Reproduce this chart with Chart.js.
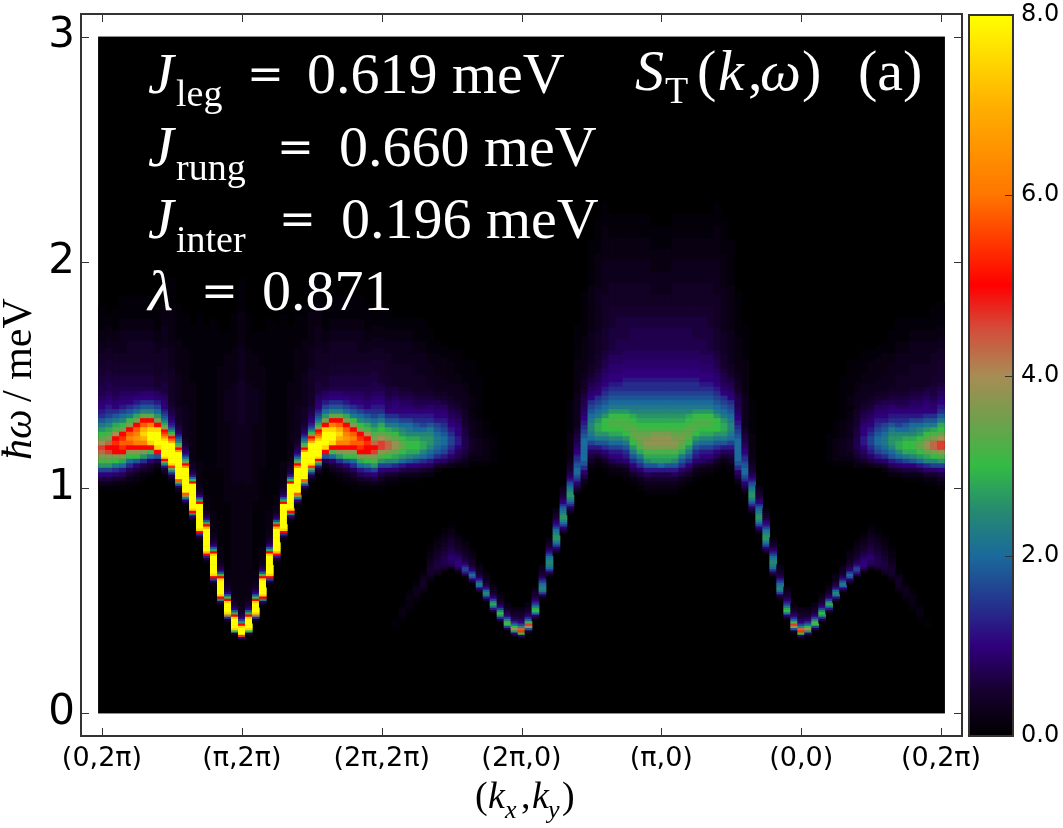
<!DOCTYPE html>
<html>
<head>
<meta charset="utf-8">
<title>S_T(k,w)</title>
<script src="https://cdn.jsdelivr.net/npm/chart.js@4/dist/chart.umd.js"></script>
<style>
    html, body { margin: 0; padding: 0; background: #fff; }
    #wrap { position: relative; width: 1063px; height: 828px; overflow: hidden; }
    #mapChart { position: absolute; left: 0; top: 0; }
    #barChart { position: absolute; left: 965px; top: 0; }
</style>
</head>
<body>
<div id="wrap">
    <canvas id="mapChart" width="1063" height="828"></canvas>
    <canvas id="barChart" width="98" height="828"></canvas>
</div>
<script>
// Path ticks every 20 momentum columns, energy ticks in meV
const kTicks = [0, 20, 40, 60, 80, 100, 120];
const kLabels = ['(0,2π)', '(π,2π)', '(2π,2π)', '(2π,0)', '(π,0)', '(0,0)', '(0,2π)'];
const energyTicks = [0, 1, 2, 3];
const colorTicks = [0, 2, 4, 6, 8];

// Intensity scale of the map
const cmapValues = [0, 0.5, 1, 1.4, 2, 2.5, 3, 3.5, 4, 4.5, 5, 5.5, 6, 7, 8];
const cmapColors = ['#000000', '#16002e', '#30007c', '#262c8c', '#1a6a9c', '#268a70', '#33bb44',
    '#6fa04c', '#a88c54', '#d24f3c', '#ff0000', '#ff3a00', '#ff7500', '#ffb000', '#ffff00'];

// One character per cell, each stands for an intensity
const levelChars = '0123456789abcdefghijklmnopqrstuvwxyz';
const levelValues = [0, .1, .2, .3, .4, .5, .6, .7, .8, .9, 1, 1.2, 1.4, 1.6, 1.8, 2, 2.2, 2.4, 2.6, 2.8,
    3, 3.2, 3.4, 3.6, 3.8, 4, 4.3, 4.6, 5, 5.4, 5.8, 6.2, 6.6, 7, 7.5, 8];

// Spectra along (0,2pi) -> (pi,2pi): columns 0..20, each a list of [first energy, row height, levels]
const spectraLegA = [
    [[.97, .02, '0136adilnqrpmkigecba9877'], [1.45, .05, '6543211']],
    [[.97, .02, '0136adilnrsqnljhfdcba9877'], [1.47, .05, '654321']],
    [[.97, .02, '01259cgknsstspljgeca9877'], [1.45, .05, '6543211']],
    [[.97, .02, '01248bfjnstutsnkhfdba987'], [1.45, .05, '65433211']],
    [[.99, .02, '11358cfkosuvusokgeca987'], [1.45, .05, '65443211']],
    [[1.01, .02, '1236aekosvwvusnjfdba87'], [1.45, .05, '65443211']],
    [[1.03, .02, '1247cinsvxyxusmheca97'], [1.45, .05, '65443211']],
    [[1.05, .02, '1359flsyzzyvsmheca97'], [1.45, .05, '65443211']],
    [[1.07, .02, '137esyzzzysnifdb986'], [1.45, .05, '5443211']],
    [[1.05, .01, '1247bhmsyzzzzzzzywutspmjhfedcbaa99887'], [1.42, .05, '6544332211']],
    [[1.02, .01, '1247chntyzzzzzzzzzxusnkhecba98776655'], [1.38, .05, '44433222111']],
    [[.97, .01, '1248enuzzzzzzzzzzzzwsokhfdb9876554'], [1.31, .05, '433322211100']],
    [[.91, .01, '125agouzzzzzzzzzzzwsojfca876544'], [1.22, .05, '3332222211100']],
    [[.84, .01, '125ahsyzzzzzzzzzzzskfb865443'], [1.12, .05, '222222211111000']],
    [[.76, .01, '126csyzzzzzzzzzzzsjea75433'], [1.02, .05, '2211111111111110']],
    [[.66, .01, '126bsxzzzzzzzzzzxsjea75433'], [.92, .05, '2111111111111111']],
    [[.56, .01, '126dsyzzzzzzzzysjea75433'], [.80, .05, '2211111111111111111']],
    [[.47, .01, '138hsyzzzzzzyskea75433'], [.69, .05, '21111111222222222111']],
    [[.40, .01, '14cpyzzzzyskea75433'], [.59, .05, '2111111222222233322211']],
    [[.34, .01, '16kyzzzzysjea75433'], [.52, .05, '2222222222333333333222111']],
    [[.32, .01, '18rzzzysida75433'], [.48, .05, '22222222222333334444333222111']]
];

// Spectra along (2pi,2pi) -> (2pi,0) -> (pi,0): columns 40..80
const spectraLegB = [
    [[.99, .02, '1246adilorrpmkjgecba9876'], [1.47, .05, '5543211']],
    [[1.01, .02, '1259dhknqqnljgeca98766'], [1.45, .05, '5443211']],
    [[.38, .01, '1111'], [1.01, .02, '1259chjmoomkigecaa9876'], [1.45, .05, '443321']],
    [[.41, .01, '11222211'], [1.03, .02, '137bfikmmkihfdba98765'], [1.45, .05, '443321']],
    [[.45, .01, '1122222211'], [1.03, .02, '136aehjkkjhgfdba98765'], [1.45, .05, '443321']],
    [[.49, .01, '1123333211'], [1.03, .02, '136adgjkkjhfecba87654'], [1.45, .05, '433211']],
    [[.53, .01, '12344443211'], [1.05, .02, '259cfhjjihfdcba87654'], [1.45, .05, '433211']],
    [[.58, .01, '12345554433222111'], [1.05, .02, '248befhiihgecba97654'], [1.45, .05, '33211']],
    [[.61, .01, '245666655443322211'], [1.07, .02, '259cefggfedba987543'], [1.45, .05, '3221']],
    [[.63, .01, '2567777665544332211'], [1.09, .02, '48bdeffedcba98654'], [1.43, .05, '3221']],
    [[.64, .01, '26889987766554332211'], [1.09, .02, '369bcddcba987654'], [1.41, .05, '3221']],
    [[.62, .01, '258aaa987655433221'], [1.09, .02, '2478abbaa9876543'], [1.41, .05, '3211']],
    [[.60, .01, '27bddb97654433221'], [1.09, .02, '23567776655443'], [1.37, .05, '3211']],
    [[.57, .01, '15aefda865433221'], [1.10, .02, '1234443333221'], [1.36, .05, '2111']],
    [[.53, .01, '15afgeb8643321'], [1.10, .02, '123333222211'], [1.34, .05, '111']],
    [[.49, .01, '16bghfb8643321'], [1.10, .02, '1222221111']],
    [[.44, .01, '16bgjhda754321'], [1.12, .02, '111111']],
    [[.40, .01, '17cikhda754321']],
    [[.36, .01, '17dklhda75432']],
    [[.34, .01, '29ipkfc975432']],
    [[.33, .01, '28ktqhda865432']],
    [[.35, .01, '15eprlfc975432']],
    [[.41, .01, '14agkjgdb975432']],
    [[.50, .01, '138dghgfdb865432']],
    [[.60, .01, '148cfghhgfdb975432']],
    [[.70, .01, '136adfhiihgfdba865432']],
    [[.79, .01, '136adfhiihgfeca9765432']],
    [[.88, .01, '1369ceghiihgfedba876554332'], [1.14, .05, '2211100']],
    [[.97, .01, '13579acdefffeedccbaa9887766554'], [1.27, .05, '3332221110']],
    [[1.00, .02, '1369cefffffedcba9877654433'], [1.52, .05, '2221111']],
    [[1.07, .02, '12468bdfghhgfedca9876544'], [1.55, .05, '33322221111']],
    [[1.09, .02, '1258begijjigfedca98776555'], [1.59, .05, '44333322211100']],
    [[1.07, .02, '1247acegikkkigfedcba9987766'], [1.61, .05, '55444333222110']],
    [[1.05, .02, '1247abdfhjkllkigfedcbaa99887'], [1.61, .05, '6655443322110']],
    [[1.05, .02, '1258abdfhjkllkigfedcbaa99887'], [1.61, .05, '7665443322110']],
    [[1.03, .02, '12369bcegiklllkigfedccbaa9988'], [1.61, .05, '7665443322110']],
    [[1.01, .02, '1247acegiklmmlkjhgfedccbaa9988'], [1.61, .05, '7765443322110']],
    [[.99, .02, '12369cegjlmnmlkjihgfedccbaa9988'], [1.61, .05, '7765443322110']],
    [[.97, .02, '12358behjlnonmlkjihgfedccbaa9988'], [1.61, .05, '7765443322110']],
    [[.97, .02, '12357beijlnoonlkjihgfedccbaa9988'], [1.61, .05, '77654332211']],
    [[.97, .02, '12357bfijlnoonlkjihgfedccbaa9988'], [1.61, .05, '77654332211']]
];

// The path is mirrored around columns 20 and 80
function spectrumAt(col) {
    if (col <= 20) return spectraLegA[col];
    if (col < 40) return spectraLegA[40 - col];
    if (col <= 80) return spectraLegB[col - 40];
    return spectraLegB[120 - col];
}

function hexToRgb(hex) {
    return [1, 3, 5].map(function (i) { return parseInt(hex.substr(i, 2), 16); });
}

function colorFor(value) {
    for (let i = 1; i < cmapValues.length; i++) {
        if (value <= cmapValues[i]) {
            const t = (value - cmapValues[i - 1]) / (cmapValues[i] - cmapValues[i - 1]);
            const a = hexToRgb(cmapColors[i - 1]);
            const b = hexToRgb(cmapColors[i]);
            return 'rgb(' + a.map(function (c, n) { return Math.round(c + (b[n] - c) * t); }).join(',') + ')';
        }
    }
    return cmapColors[cmapColors.length - 1];
}

// Every cell of the map becomes one floating bar
const cells = [];
const cellColors = [];
for (let col = 0; col <= 120; col++) {
    spectrumAt(col).forEach(function (run) {
        for (let i = 0; i < run[2].length; i++) {
            const value = levelValues[levelChars.indexOf(run[2][i])];
            if (value === 0) continue;
            cells.push({ x: col, y: [run[0] + i * run[1], run[0] + (i + 1) * run[1]] });
            cellColors.push(colorFor(value));
        }
    });
}

const frameColor = '#333';

function put(c, text, x, y, font) {
    c.font = font;
    c.fillText(text, x, y);
}

const SERIF = '"Liberation Serif", serif';

const mapDecorations = {
    id: 'mapDecorations',
    // black field behind the cells, from the scales
    beforeDatasetsDraw: function (chart) {
        const c = chart.ctx;
        const x = chart.scales.x;
        const y = chart.scales.y;
        c.save();
        c.fillStyle = '#000';
        c.fillRect(x.getPixelForValue(-0.5) - 0.4, y.getPixelForValue(3),
            x.getPixelForValue(120.5) - x.getPixelForValue(-0.5) + 0.8, y.getPixelForValue(0) - y.getPixelForValue(3));
        c.restore();
    },
    afterDatasetsDraw: function (chart) {
        const c = chart.ctx;
        const a = chart.chartArea;
        c.save();

        // frame and inward ticks on all four sides
        c.strokeStyle = frameColor;
        c.lineWidth = 1;
        chart.scales.x.ticks.forEach(function (t, i) {
            const px = Math.round(chart.scales.x.getPixelForTick(i)) + 0.5;
            c.beginPath();
            c.moveTo(px, a.bottom); c.lineTo(px, a.bottom - 8);
            c.moveTo(px, a.top); c.lineTo(px, a.top + 8);
            c.stroke();
        });
        chart.scales.y.ticks.forEach(function (t, i) {
            const py = Math.round(chart.scales.y.getPixelForTick(i)) + 0.5;
            c.beginPath();
            c.moveTo(a.left, py); c.lineTo(a.left + 8, py);
            c.moveTo(a.right, py); c.lineTo(a.right - 8, py);
            c.stroke();
        });
        c.lineWidth = 2;
        c.strokeRect(a.left, a.top, a.right - a.left, a.bottom - a.top);

        // parameter block
        c.fillStyle = '#fff';
        c.textAlign = 'left';
        c.textBaseline = 'alphabetic';
        const big = '58px ' + SERIF;
        const bigIt = 'italic 58px ' + SERIF;
        const sub = '38px ' + SERIF;
        const eq = '44px "DejaVu Serif"';
        put(c, 'J', 148, 93, bigIt); put(c, 'leg', 176, 106, sub);
        put(c, '=', 247, 89, eq); put(c, '0.619 meV', 307, 93, big);
        put(c, 'J', 148, 166, bigIt); put(c, 'rung', 176, 180, sub);
        put(c, '=', 277, 162, eq); put(c, '0.660 meV', 339, 166, big);
        put(c, 'J', 148, 238, bigIt); put(c, 'inter', 176, 252, sub);
        put(c, '=', 279, 234, eq); put(c, '0.196 meV', 341, 238, big);
        put(c, 'λ', 148, 310, bigIt);
        put(c, '=', 201, 306, eq); put(c, '0.871', 262, 310, big);

        // panel title
        put(c, 'S', 635, 90, bigIt); put(c, 'T', 665, 103, sub);
        put(c, '(', 697, 90, big); put(c, 'k', 718, 90, bigIt);
        put(c, ',', 748, 90, big); put(c, 'ω', 760, 90, bigIt);
        put(c, ')', 802, 90, big); put(c, '(a)', 858, 90, big);

        // axis titles
        c.fillStyle = '#000';
        const title = '38px ' + SERIF;
        const titleIt = 'italic 38px ' + SERIF;
        const subIt = 'italic 26px ' + SERIF;
        put(c, '(', 475, 808, title); put(c, 'k', 488, 808, titleIt); put(c, 'x', 505, 818, subIt);
        put(c, ',', 521, 808, title); put(c, 'k', 532, 808, titleIt); put(c, 'y', 548, 818, subIt);
        put(c, ')', 562, 808, title);

        c.translate(31, 460);
        c.rotate(-Math.PI / 2);
        put(c, 'ħω', 0, 0, 'italic 42px ' + SERIF);
        put(c, '/ meV', 58, 0, '42px ' + SERIF);
        c.restore();
    }
};

new Chart(document.getElementById('mapChart').getContext('2d'), {
    type: 'bar',
    data: {
        datasets: [{
            data: cells,
            backgroundColor: cellColors,
            barPercentage: 1,
            categoryPercentage: 1,
            borderWidth: 0
        }]
    },
    options: {
        responsive: false,
        animation: false,
        layout: { padding: { top: 14, right: 101 } },
        plugins: { legend: { display: false }, tooltip: { enabled: false } },
        scales: {
            x: {
                type: 'linear',
                offset: false,
                min: -3,
                max: 123,
                afterBuildTicks: function (scale) {
                    scale.ticks = kTicks.map(function (v) { return { value: v }; });
                },
                afterFit: function (scale) {
                    scale.height = 92;
                    scale.paddingLeft = 0;
                    scale.paddingRight = 0;
                },
                grid: { display: false, drawTicks: false, offset: false },
                border: { display: false },
                ticks: {
                    autoSkip: false,
                    maxRotation: 0,
                    padding: 7,
                    color: '#000',
                    font: { family: '"DejaVu Sans"', size: 27 },
                    callback: function (value, index) { return kLabels[index]; }
                }
            },
            y: {
                min: -0.1,
                max: 3.1,
                afterBuildTicks: function (scale) {
                    scale.ticks = energyTicks.map(function (v) { return { value: v }; });
                },
                // labels may overhang the frame, no extra room for them
                afterFit: function (scale) {
                    scale.width = 81;
                    scale.paddingTop = 0;
                    scale.paddingBottom = 0;
                },
                grid: { display: false, drawTicks: false },
                border: { display: false },
                ticks: {
                    padding: 6,
                    color: '#000',
                    font: { family: '"DejaVu Sans"', size: 42 },
                    callback: function (value) { return String(value); }
                }
            }
        }
    },
    plugins: [mapDecorations]
});

// Colour bar: a single floating bar from 0 to 8 filled with the intensity scale
const barDecorations = {
    id: 'barDecorations',
    afterDatasetsDraw: function (chart) {
        const c = chart.ctx;
        const a = chart.chartArea;
        c.save();
        c.strokeStyle = frameColor;
        c.lineWidth = 1;
        chart.scales.y.ticks.forEach(function (t, i) {
            const py = Math.round(chart.scales.y.getPixelForTick(i)) + 0.5;
            c.beginPath();
            c.moveTo(a.right, py); c.lineTo(a.right - 8, py);
            c.stroke();
        });
        c.lineWidth = 2;
        c.strokeRect(a.left, a.top, a.right - a.left, a.bottom - a.top);
        c.restore();
    }
};

new Chart(document.getElementById('barChart').getContext('2d'), {
    type: 'bar',
    data: {
        labels: ['intensity'],
        datasets: [{
            data: [[0, 8]],
            barPercentage: 1,
            categoryPercentage: 1,
            borderWidth: 0,
            backgroundColor: function (context) {
                const area = context.chart.chartArea;
                if (!area) return '#000';
                const g = context.chart.ctx.createLinearGradient(0, area.bottom, 0, area.top);
                cmapValues.forEach(function (v, i) { g.addColorStop(v / 8, cmapColors[i]); });
                return g;
            }
        }]
    },
    options: {
        responsive: false,
        animation: false,
        layout: { padding: { top: 15, left: 4 } },
        plugins: { legend: { display: false }, tooltip: { enabled: false } },
        scales: {
            x: {
                display: true,
                afterFit: function (scale) { scale.height = 92; },
                grid: { display: false, drawTicks: false },
                border: { display: false },
                ticks: { display: false }
            },
            y: {
                position: 'right',
                min: 0,
                max: 8,
                afterBuildTicks: function (scale) {
                    scale.ticks = colorTicks.map(function (v) { return { value: v }; });
                },
                afterFit: function (scale) {
                    scale.width = 50;
                    scale.paddingTop = 0;
                    scale.paddingBottom = 0;
                },
                grid: { display: false, drawTicks: false },
                border: { display: false },
                ticks: {
                    padding: 8,
                    color: '#000',
                    font: { family: '"DejaVu Sans"', size: 24 },
                    callback: function (value) { return value.toFixed(1); }
                }
            }
        }
    },
    plugins: [barDecorations]
});
</script>
</body>
</html>
